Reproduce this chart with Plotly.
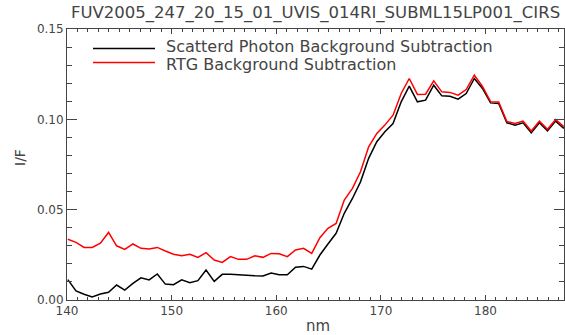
import plotly.graph_objects as go

# Wavelength grid (nm) of the binned FUV spectrum
wavelength = [
    140.08, 140.86, 141.63, 142.41, 143.19, 143.97, 144.74, 145.52, 146.30, 147.07,
    147.85, 148.63, 149.40, 150.18, 150.96, 151.74, 152.51, 153.29, 154.07, 154.84,
    155.62, 156.40, 157.17, 157.95, 158.73, 159.51, 160.28, 161.06, 161.84, 162.61,
    163.39, 164.17, 164.94, 165.72, 166.50, 167.28, 168.05, 168.83, 169.61, 170.38,
    171.16, 171.94, 172.71, 173.49, 174.27, 175.05, 175.82, 176.60, 177.38, 178.15,
    178.93, 179.71, 180.48, 181.26, 182.04, 182.82, 183.59, 184.37, 185.15, 185.92,
    186.70, 187.48,
]

# I/F after scattered-photon background subtraction
if_scattered = [
    0.0113, 0.0050, 0.0032, 0.0017, 0.0033, 0.0043, 0.0083, 0.0055, 0.0092, 0.0123,
    0.0111, 0.0144, 0.0088, 0.0085, 0.0112, 0.0096, 0.0107, 0.0166, 0.0103, 0.0142,
    0.0142, 0.0138, 0.0138, 0.0134, 0.0133, 0.0149, 0.0140, 0.0140, 0.0181, 0.0186,
    0.0171, 0.0249, 0.0310, 0.0369, 0.0480, 0.0562, 0.0654, 0.0784, 0.0876, 0.0931,
    0.0977, 0.1097, 0.1184, 0.1097, 0.1106, 0.1189, 0.1130, 0.1128, 0.1112, 0.1143,
    0.1226, 0.1171, 0.1091, 0.1088, 0.0981, 0.0968, 0.0981, 0.0925, 0.0981, 0.0936,
    0.0990, 0.0950,
]

# I/F after RTG background subtraction
if_rtg = [
    0.0336, 0.0319, 0.0291, 0.0291, 0.0314, 0.0374, 0.0300, 0.0280, 0.0310, 0.0286,
    0.0282, 0.0291, 0.0271, 0.0253, 0.0245, 0.0253, 0.0236, 0.0262, 0.0221, 0.0208,
    0.0240, 0.0225, 0.0225, 0.0245, 0.0236, 0.0258, 0.0256, 0.0240, 0.0277, 0.0286,
    0.0258, 0.0345, 0.0397, 0.0424, 0.0553, 0.0618, 0.0710, 0.0848, 0.0922, 0.0968,
    0.1023, 0.1143, 0.1226, 0.1138, 0.1139, 0.1213, 0.1152, 0.1149, 0.1134, 0.1165,
    0.1244, 0.1182, 0.1098, 0.1096, 0.0988, 0.0977, 0.0990, 0.0935, 0.0990, 0.0945,
    0.0999, 0.0960,
]

series_names = ["Scatterd Photon Background Subtraction", "RTG Background Subtraction"]
series_colors = ["#000000", "#ff0000"]
title_text = "FUV2005_247_20_15_01_UVIS_014RI_SUBML15LP001_CIRS"

FONT = "DejaVu Sans"
TXT = "#444444"

fig = go.Figure()
fig.add_trace(go.Scatter(x=wavelength, y=if_scattered, mode="lines",
                         line=dict(color=series_colors[0], width=1.5),
                         name=series_names[0], showlegend=False))
fig.add_trace(go.Scatter(x=wavelength, y=if_rtg, mode="lines",
                         line=dict(color=series_colors[1], width=1.5),
                         name=series_names[1], showlegend=False))

axis_common = dict(
    showline=True, linecolor=TXT, linewidth=1, mirror="allticks",
    ticks="inside", tickcolor=TXT, tickwidth=1,
    showgrid=False, zeroline=False,
    tickfont=dict(family=FONT, size=12, color=TXT),
)

fig.update_xaxes(range=[140, 187.5], dtick=10, tick0=140, ticklen=5,
                 minor=dict(dtick=1, ticklen=3, ticks="inside", tickcolor=TXT, showgrid=False),
                 **axis_common)
fig.update_yaxes(range=[0, 0.15], dtick=0.05, tick0=0, tickformat=".2f", ticklen=10,
                 minor=dict(dtick=0.01, ticklen=5, ticks="inside", tickcolor=TXT, showgrid=False),
                 **axis_common)

# Plot-area geometry in pixels, used for paper-coordinate placement of labels
L, R, T, B = 67, 564, 29, 300
W, H = R - L, B - T


def px(xp):
    return (xp - L) / W


def py(yp):
    return (B - yp) / H


annotations = [
    dict(text=title_text, x=px(562), y=py(12.5), xanchor="right", yanchor="middle",
         font=dict(family=FONT, size=16.5, color=TXT)),
    dict(text="I/F", x=px(20), y=py(158), textangle=-90, xanchor="center", yanchor="middle",
         font=dict(family=FONT, size=14, color=TXT)),
    dict(text="nm", x=px(318), y=py(326), xanchor="center", yanchor="middle",
         font=dict(family=FONT, size=15, color=TXT)),
]
shapes = []
# legend sample lines and their label rows (pixel y of line, pixel y of text centre)
legend_rows = [(48.5, 46.5), (62.5, 64)]
for name, color, (yline, ytext) in zip(series_names, series_colors, legend_rows):
    shapes.append(dict(type="line", xref="paper", yref="paper",
                       x0=px(93), x1=px(155), y0=py(yline), y1=py(yline),
                       line=dict(color=color, width=1.5)))
    annotations.append(dict(text=name, x=px(164), y=py(ytext), xanchor="left",
                            yanchor="middle",
                            font=dict(family=FONT, size=16, color=TXT)))

for a in annotations:
    a.update(xref="paper", yref="paper", showarrow=False)

fig.update_layout(
    width=565, height=335,
    margin=dict(l=L, r=565 - R, t=T, b=335 - B, pad=0),
    paper_bgcolor="white", plot_bgcolor="white",
    annotations=annotations, shapes=shapes,
    showlegend=False,
)

fig.write_html("out.html")
